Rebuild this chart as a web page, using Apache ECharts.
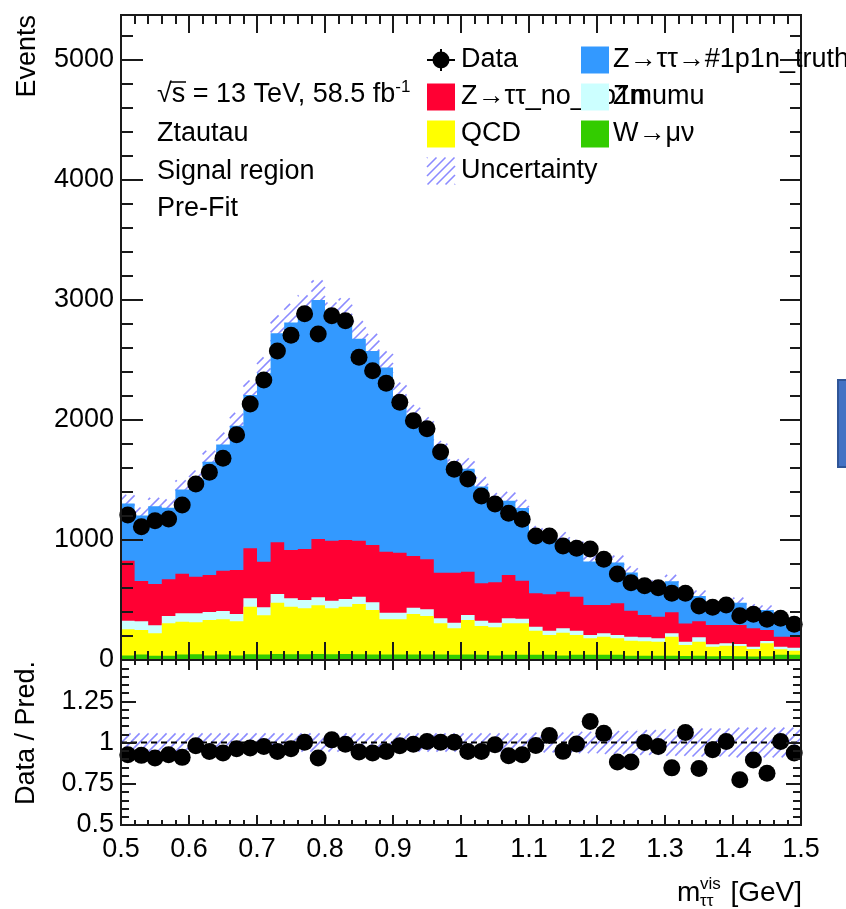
<!DOCTYPE html>
<html>
<head>
<meta charset="utf-8">
<script src="https://cdn.jsdelivr.net/npm/echarts@6/dist/echarts.min.js"></script>
<style>
  html, body { margin: 0; padding: 0; background: #ffffff; }
  #chart { width: 846px; height: 909px; }
</style>
</head>
<body>
<div id="chart"></div>
<script>
// Visible di-tau mass, 50 bins of 0.02 GeV between 0.5 and 1.5 GeV
const xLow = 0.5, xHigh = 1.5, nBins = 50;
const binEdges = Array.from({ length: nBins + 1 }, (_, i) => +(xLow + i * (xHigh - xLow) / nBins).toFixed(2));

// Observed events per bin
const dataCounts = [
  1208, 1111, 1161, 1175, 1292, 1467, 1564, 1681, 1878, 2133,
  2333, 2575, 2706, 2886, 2717, 2869, 2828, 2522, 2411, 2306,
  2147, 1994, 1928, 1733, 1589, 1508, 1367, 1300, 1222, 1172,
  1033, 1033, 950, 931, 925, 839, 717, 644, 619, 603,
  556, 556, 450, 439, 458, 369, 381, 339, 347, 297
];

// Background / signal predictions per bin (stacked bottom to top)
const wMuNu = [
  38, 46, 36, 36, 45, 48, 38, 46, 38, 48,
  46, 50, 48, 48, 50, 48, 50, 48, 46, 46,
  46, 46, 45, 45, 44, 46, 44, 38, 44, 44,
  44, 44, 38, 44, 44, 44, 44, 36, 36, 36,
  36, 34, 36, 32, 34, 32, 30, 32, 44, 44
];
const qcd = [
  218, 204, 186, 270, 274, 266, 295, 293, 284, 396,
  326, 428, 396, 383, 406, 383, 394, 419, 371, 293,
  293, 337, 322, 261, 220, 287, 239, 234, 262, 262,
  200, 164, 190, 164, 137, 150, 137, 125, 120, 117,
  158, 91, 117, 79, 85, 85, 62, 107, 45, 34
];
const zMuMu = [
  72, 72, 67, 61, 70, 75, 67, 69, 61, 70,
  67, 72, 70, 69, 66, 63, 64, 61, 64, 55,
  55, 53, 55, 41, 47, 42, 45, 39, 41, 38,
  34, 36, 36, 36, 27, 28, 27, 33, 33, 28,
  28, 28, 36, 20, 20, 16, 19, 19, 22, 25
];
const zTauTauNo1p1n = [
  500, 336, 344, 305, 330, 305, 308, 336, 367, 417,
  380, 431, 403, 425, 486, 500, 492, 466, 477, 509,
  500, 431, 417, 381, 417, 361, 311, 336, 361, 317,
  278, 303, 305, 284, 250, 236, 264, 217, 186, 180,
  175, 152, 133, 161, 153, 159, 153, 92, 83, 91
];
const zTauTau1p1nTruth = [
  477, 547, 648, 597, 701, 803, 945, 1052, 1202, 1277,
  1571, 1741, 1896, 1955, 1991, 1830, 1857, 1683, 1618, 1535,
  1297, 1147, 1078, 1002, 858, 858, 806, 671, 620, 605,
  496, 444, 435, 412, 363, 337, 341, 319, 244, 257,
  260, 219, 212, 167, 163, 185, 162, 167, 151, 123
];

// Relative uncertainty of the total prediction
const relUncertainty = [
  0.055, 0.055, 0.055, 0.055, 0.055, 0.055, 0.055, 0.055, 0.055, 0.055,
  0.055, 0.055, 0.055, 0.055, 0.055, 0.055, 0.055, 0.055, 0.055, 0.055,
  0.055, 0.055, 0.055, 0.055, 0.055, 0.055, 0.055, 0.055, 0.055, 0.055,
  0.06, 0.06, 0.06, 0.065, 0.065, 0.07, 0.07, 0.07, 0.075, 0.075,
  0.08, 0.08, 0.085, 0.085, 0.085, 0.09, 0.09, 0.09, 0.09, 0.09
];

// Tick positions
const xMajorTicks = [0.5, 0.6, 0.7, 0.8, 0.9, 1, 1.1, 1.2, 1.3, 1.4, 1.5];
const eventTicks = [0, 1000, 2000, 3000, 4000, 5000];
const eventMinorStep = 200;
const ratioTicks = [0.5, 0.75, 1, 1.25, 1.5];
const ratioLabelTicks = [0.5, 0.75, 1, 1.25];
const ratioMinorStep = 0.05;

const eventsMax = 5375;
const ratioMin = 0.5, ratioMax = 1.5;

const legendLabels = {
  data: 'Data',
  sig: 'Z\u2192\u03c4\u03c4\u2192#1p1n_truth',
  noSig: 'Z\u2192\u03c4\u03c4_no_1p1n',
  zmm: 'Zmumu',
  qcd: 'QCD',
  w: 'W\u2192\u03bc\u03bd',
  unc: 'Uncertainty'
};

const colors = {
  sig: '#3399ff',
  noSig: '#ff0033',
  zmm: '#ccffff',
  qcd: '#ffff00',
  w: '#33cc00',
  hatch: 'rgba(100, 100, 255, 0.75)',
  frame: '#1a1a1a'
};
const FONT = "'Liberation Sans', Arial, Helvetica, sans-serif";

// ---- derived quantities ----
const binCenters = binEdges.slice(0, nBins).map((e, i) => (e + binEdges[i + 1]) / 2);
const cumulate = (arrays) => {
  const out = [];
  let run = new Array(nBins).fill(0);
  arrays.forEach(a => { run = run.map((v, i) => v + a[i]); out.push(run.slice()); });
  return out;
};
const [topW, topQcd, topZmm, topNoSig, topTotal] = cumulate([wMuNu, qcd, zMuMu, zTauTauNo1p1n, zTauTau1p1nTruth]);
const ratio = dataCounts.map((d, i) => d / topTotal[i]);

const xMinorTicks = binEdges.filter(v => !xMajorTicks.some(m => Math.abs(m - v) < 1e-6));
const eventMinorTicks = [];
for (let v = eventMinorStep; v < eventsMax; v += eventMinorStep) if (v % 1000 !== 0) eventMinorTicks.push(v);
const ratioMinorTicks = [];
for (let k = 1; ratioMin + k * ratioMinorStep < ratioMax - 1e-9; k++) {
  const v = +(ratioMin + k * ratioMinorStep).toFixed(2);
  if (!ratioTicks.some(m => Math.abs(m - v) < 1e-6)) ratioMinorTicks.push(v);
}

// ---- helpers ----
function hatchSegments(x0, y0, x1, y1, step) {
  // '/' lines (x + y = const) clipped to the rectangle
  const segs = [];
  const cMin = x0 + y0, cMax = x1 + y1;
  for (let c = Math.ceil(cMin / step) * step; c <= cMax; c += step) {
    const xa = Math.max(x0, c - y1), xb = Math.min(x1, c - y0);
    if (xb > xa) segs.push([xa, c - xa, xb, c - xb]);
  }
  return segs;
}
function hatchGroup(x0, y0, x1, y1) {
  return {
    type: 'group',
    children: hatchSegments(x0, y0, x1, y1, 9).map(s => ({
      type: 'line',
      shape: { x1: s[0], y1: s[1], x2: s[2], y2: s[3] },
      style: { stroke: colors.hatch, lineWidth: 1.6 }
    }))
  };
}

function xAxisDef(grid, pos, ticks, len, withLabels) {
  return {
    type: 'value', gridIndex: grid, position: pos, min: xLow, max: xHigh, z: 10,
    axisLine: { show: true, onZero: false, lineStyle: { color: colors.frame, width: 2 } },
    axisTick: { show: true, inside: true, length: len, customValues: ticks, lineStyle: { color: colors.frame, width: 2 } },
    axisLabel: withLabels
      ? { show: true, customValues: ticks, margin: 11, color: '#000', fontSize: 27, fontFamily: FONT, formatter: v => String(v) }
      : { show: false },
    splitLine: { show: false }
  };
}
function yAxisDef(grid, pos, min, max, ticks, len, labelTicks) {
  return {
    type: 'value', gridIndex: grid, position: pos, min: min, max: max, z: 10,
    axisLine: { show: true, onZero: false, lineStyle: { color: colors.frame, width: 2 } },
    axisTick: { show: true, inside: true, length: len, customValues: ticks, lineStyle: { color: colors.frame, width: 2 } },
    axisLabel: labelTicks
      ? { show: true, customValues: labelTicks, margin: 7, color: '#000', fontSize: 27, fontFamily: FONT, formatter: v => String(v) }
      : { show: false },
    splitLine: { show: false }
  };
}

function stepPolygon(api, tops) {
  const pts = [];
  for (let i = 0; i < nBins; i++) {
    pts.push(api.coord([binEdges[i], tops[i]]));
    pts.push(api.coord([binEdges[i + 1], tops[i]]));
  }
  pts.push(api.coord([binEdges[nBins], 0]));
  pts.push(api.coord([binEdges[0], 0]));
  return pts;
}
function layerSeries(tops, color) {
  return {
    type: 'custom', xAxisIndex: 0, yAxisIndex: 0, silent: true, z: 2,
    data: [[xLow, 0]],
    renderItem: (params, api) => ({
      type: 'polygon',
      shape: { points: stepPolygon(api, tops) },
      style: { fill: color }
    })
  };
}
function bandSeries(xi, yi, rows, z) {
  return {
    type: 'custom', xAxisIndex: xi, yAxisIndex: yi, silent: true, z: z,
    encode: { x: [0, 1], y: [2, 3] },
    data: rows,
    renderItem: (params, api) => {
      const a = api.coord([api.value(0), api.value(3)]);
      const b = api.coord([api.value(1), api.value(2)]);
      return hatchGroup(a[0], a[1], b[0], b[1]);
    }
  };
}

// ---- legend & annotations ----
const legendRows = [60, 97, 134, 171];
const col1 = { box: 427, text: 461 }, col2 = { box: 581, text: 613 };
const boxW = 28, boxH = 27;
let zc = 200;
const gfx = [];
function addBox(col, row, color) {
  gfx.push({ type: 'rect', z: zc++, shape: { x: col.box, y: legendRows[row] - boxH / 2, width: boxW, height: boxH }, style: { fill: color } });
}
function addText(x, y, text, size, extra) {
  gfx.push(Object.assign({ type: 'text', z: zc++, x: x, y: y,
    style: { text: text, fontSize: size, fontFamily: FONT, fill: '#000', align: 'left', verticalAlign: 'middle' } }, extra || {}));
}
// Data entry
gfx.push({ type: 'line', z: zc++, shape: { x1: col1.box, y1: legendRows[0], x2: col1.box + boxW, y2: legendRows[0] }, style: { stroke: '#000', lineWidth: 2 } });
gfx.push({ type: 'line', z: zc++, shape: { x1: col1.box + boxW / 2, y1: legendRows[0] - 11, x2: col1.box + boxW / 2, y2: legendRows[0] + 11 }, style: { stroke: '#000', lineWidth: 2 } });
gfx.push({ type: 'circle', z: zc++, shape: { cx: col1.box + boxW / 2, cy: legendRows[0], r: 8.5 }, style: { fill: '#000' } });
addText(col1.text, legendRows[0], legendLabels.data, 27);
addBox(col2, 0, colors.sig);
addText(col2.text, legendRows[0], legendLabels.sig, 27);
addBox(col1, 1, colors.noSig);
addText(col1.text, legendRows[1], legendLabels.noSig, 27);
addBox(col2, 1, colors.zmm);
addText(col2.text, legendRows[1], legendLabels.zmm, 27);
addBox(col1, 2, colors.qcd);
addText(col1.text, legendRows[2], legendLabels.qcd, 27);
addBox(col2, 2, colors.w);
addText(col2.text, legendRows[2], legendLabels.w, 27);
gfx.push(Object.assign(hatchGroup(col1.box, legendRows[3] - boxH / 2, col1.box + boxW, legendRows[3] + boxH / 2), { z: zc++ }));
addText(col1.text, legendRows[3], legendLabels.unc, 27);

// Labels of the plot
addText(157, 95, '', 27, {
  style: { text: '\u221As = 13 TeV, 58.5 fb{sup|-1}', fontSize: 27, fontFamily: FONT, fill: '#000', align: 'left', verticalAlign: 'middle', lineHeight: 32,
    rich: { sup: { fontSize: 17, fontFamily: FONT, fill: '#000', verticalAlign: 'top', lineHeight: 18 } } }
});
gfx.push({ type: 'line', z: zc++, shape: { x1: 170, y1: 82, x2: 186, y2: 82 }, style: { stroke: '#000', lineWidth: 1.5 } });
addText(157, 134, 'Ztautau', 27);
addText(157, 172, 'Signal region', 27);
addText(157, 209, 'Pre-Fit', 27);

// Axis titles
gfx.push({ type: 'text', z: zc++, x: 28, y: 15, rotation: Math.PI / 2,
  style: { text: 'Events', fontSize: 27, fontFamily: FONT, fill: '#000', align: 'right', verticalAlign: 'middle' } });
gfx.push({ type: 'text', z: zc++, x: 27, y: 733, rotation: Math.PI / 2,
  style: { text: 'Data / Pred.', fontSize: 27, fontFamily: FONT, fill: '#000', align: 'center', verticalAlign: 'middle' } });
gfx.push({ type: 'text', z: zc++, x: 677, y: 893,
  style: { text: 'm', fontSize: 28, fontFamily: FONT, fill: '#000', align: 'left', verticalAlign: 'middle' } });
gfx.push({ type: 'text', z: zc++, x: 700, y: 884,
  style: { text: 'vis', fontSize: 17, fontFamily: FONT, fill: '#000', align: 'left', verticalAlign: 'middle' } });
gfx.push({ type: 'text', z: zc++, x: 700, y: 901,
  style: { text: '\u03c4\u03c4', fontSize: 17, fontFamily: FONT, fill: '#000', align: 'left', verticalAlign: 'middle' } });
gfx.push({ type: 'text', z: zc++, x: 802, y: 893,
  style: { text: '[GeV]', fontSize: 28, fontFamily: FONT, fill: '#000', align: 'right', verticalAlign: 'middle' } });

// Side button at the right edge
gfx.push({ type: 'rect', z: zc++, shape: { x: 838, y: 380, width: 14, height: 87 },
  style: { fill: '#4472c4', stroke: '#2f5597', lineWidth: 2 } });

// ---- chart ----
const chart = echarts.init(document.getElementById('chart'), null, { renderer: 'canvas' });
const option = {
  animation: false,
  backgroundColor: '#ffffff',
  grid: [
    { left: 121, top: 15, width: 680, height: 645, containLabel: false },
    { left: 121, top: 660, width: 680, height: 165, containLabel: false }
  ],
  xAxis: [
    xAxisDef(0, 'bottom', xMajorTicks, 18, false),
    xAxisDef(0, 'bottom', xMinorTicks, 9, false),
    xAxisDef(0, 'top', xMajorTicks, 18, false),
    xAxisDef(0, 'top', xMinorTicks, 9, false),
    xAxisDef(1, 'bottom', xMajorTicks, 10, true),
    xAxisDef(1, 'bottom', xMinorTicks, 5, false),
    xAxisDef(1, 'top', xMajorTicks, 10, false),
    xAxisDef(1, 'top', xMinorTicks, 5, false)
  ],
  yAxis: [
    yAxisDef(0, 'left', 0, eventsMax, eventTicks, 22, eventTicks),
    yAxisDef(0, 'left', 0, eventsMax, eventMinorTicks, 12, null),
    yAxisDef(0, 'right', 0, eventsMax, eventTicks, 21, null),
    yAxisDef(0, 'right', 0, eventsMax, eventMinorTicks, 11, null),
    yAxisDef(1, 'left', ratioMin, ratioMax, ratioTicks, 15, ratioLabelTicks),
    yAxisDef(1, 'left', ratioMin, ratioMax, ratioMinorTicks, 8, null),
    yAxisDef(1, 'right', ratioMin, ratioMax, ratioTicks, 15, null),
    yAxisDef(1, 'right', ratioMin, ratioMax, ratioMinorTicks, 8, null)
  ],
  series: [
    // uncertainty band first, the stack covers its lower half
    bandSeries(0, 0, topTotal.map((t, i) => [binEdges[i], binEdges[i + 1], t * (1 - relUncertainty[i]), t * (1 + relUncertainty[i])]), 1),
    layerSeries(topTotal, colors.sig),
    layerSeries(topNoSig, colors.noSig),
    layerSeries(topZmm, colors.zmm),
    layerSeries(topQcd, colors.qcd),
    layerSeries(topW, colors.w),
    {
      type: 'scatter', xAxisIndex: 0, yAxisIndex: 0, silent: true, z: 5,
      symbol: 'circle', symbolSize: 17, itemStyle: { color: '#000', opacity: 1 },
      data: binCenters.map((c, i) => [c, dataCounts[i]])
    },
    bandSeries(4, 4, relUncertainty.map((u, i) => [binEdges[i], binEdges[i + 1], 1 - u, 1 + u]), 3),
    {
      type: 'line', xAxisIndex: 4, yAxisIndex: 4, silent: true, z: 4, symbol: 'none',
      lineStyle: { color: '#000', width: 2, type: [6, 4] },
      data: [[xLow, 1], [xHigh, 1]]
    },
    {
      type: 'scatter', xAxisIndex: 4, yAxisIndex: 4, silent: true, z: 5,
      symbol: 'circle', symbolSize: 17, itemStyle: { color: '#000', opacity: 1 },
      data: binCenters.map((c, i) => [c, ratio[i]])
    }
  ],
  graphic: gfx
};
chart.setOption(option);
</script>
</body>
</html>
